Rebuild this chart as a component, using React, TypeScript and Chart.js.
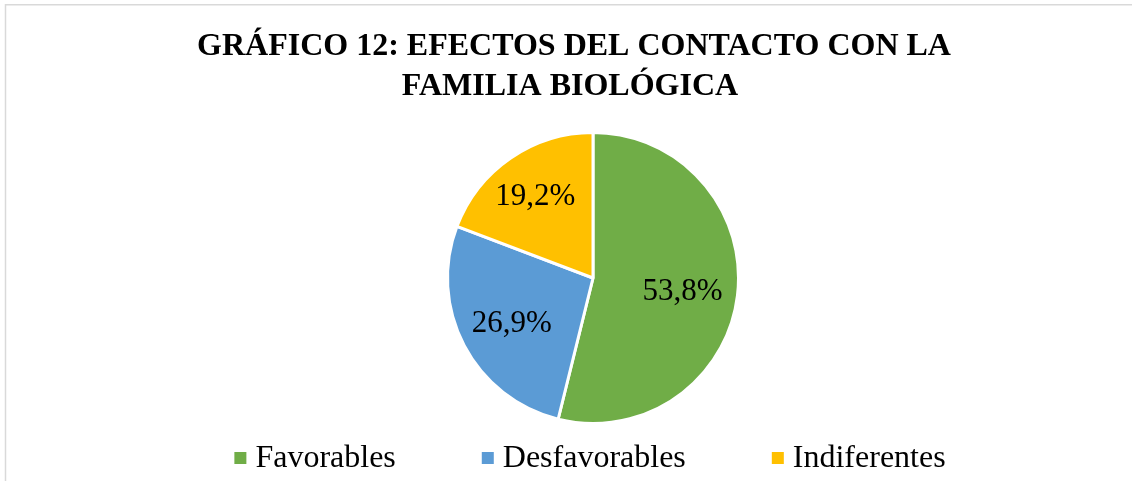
import React, { useEffect, useRef } from "react";
import { Chart, registerables } from "chart.js";

Chart.register(...registerables);

const titleLines = ["GRÁFICO 12: EFECTOS DEL CONTACTO CON LA", "FAMILIA BIOLÓGICA"];
const categories = ["Favorables", "Desfavorables", "Indiferentes"];
const values = [53.8, 26.9, 19.2];
const valueLabels = ["53,8%", "26,9%", "19,2%"];
const colors = ["#70AD47", "#5B9BD5", "#FFC000"];

const SERIF = '"Liberation Serif", "Times New Roman", serif';

const framePlugin = {
  id: "frame",
  beforeDraw(chart: any) {
    const ctx = chart.ctx;
    ctx.save();
    ctx.fillStyle = "#ffffff";
    ctx.fillRect(0, 0, chart.width, chart.height);
    ctx.strokeStyle = "#d9d9d9";
    ctx.lineWidth = 1.5;
    ctx.beginPath();
    ctx.moveTo(5.5, chart.height + 10);
    ctx.lineTo(5.5, 4.75);
    ctx.lineTo(chart.width + 10, 4.75);
    ctx.stroke();
    // title
    ctx.fillStyle = "#000000";
    ctx.font = "bold 32px " + SERIF;
    ctx.textAlign = "center";
    ctx.textBaseline = "alphabetic";
    ctx.fillText(titleLines[0], 574, 55);
    ctx.fillText(titleLines[1], 570, 95);
    ctx.restore();
  },
  afterDatasetsDraw(chart: any) {
    const ctx = chart.ctx;
    const meta = chart.getDatasetMeta(0);
    ctx.save();
    ctx.fillStyle = "#000000";
    ctx.font = "31px " + SERIF;
    ctx.textAlign = "center";
    ctx.textBaseline = "middle";
    const factors = [0.62, 0.63, 0.7];
    meta.data.forEach((arc: any, i: number) => {
      const p = arc.getProps(["x", "y", "startAngle", "endAngle", "outerRadius"], true);
      const mid = (p.startAngle + p.endAngle) / 2;
      const r = p.outerRadius * factors[i];
      ctx.fillText(valueLabels[i], p.x + Math.cos(mid) * r, p.y + Math.sin(mid) * r + 3);
    });
    // legend
    ctx.font = "32px " + SERIF;
    const box = 12;
    const gapBoxText = 9;
    const gapItems = 86;
    const widths = categories.map((c) => ctx.measureText(c).width);
    const total =
      widths.reduce((a, w) => a + box + gapBoxText + w, 0) + gapItems * (categories.length - 1);
    let x = 590 - total / 2;
    const baseline = 467;
    ctx.textAlign = "left";
    ctx.textBaseline = "alphabetic";
    categories.forEach((c, i) => {
      ctx.fillStyle = colors[i];
      ctx.fillRect(x, 452, box, box);
      x += box + gapBoxText;
      ctx.fillStyle = "#000000";
      ctx.fillText(c, x, baseline);
      x += widths[i] + gapItems;
    });
    ctx.restore();
  },
};

export default function App() {
  const ref = useRef<HTMLCanvasElement | null>(null);
  useEffect(() => {
    if (!ref.current) return;
    const chart = new Chart(ref.current, {
      type: "pie",
      data: {
        labels: categories,
        datasets: [
          {
            data: values,
            backgroundColor: colors,
            borderColor: "#ffffff",
            borderWidth: 3,
          },
        ],
      },
      options: {
        animation: false,
        responsive: false,
        maintainAspectRatio: false,
        layout: { padding: { top: 131, bottom: 56, left: 54, right: 0 } },
        plugins: {
          legend: { display: false },
          title: { display: false },
          tooltip: { enabled: false },
        },
      },
      plugins: [framePlugin],
    });
    return () => chart.destroy();
  }, []);
  return (
    <div style={{ position: "absolute", left: 0, top: 0, width: 1132, height: 481 }}>
      <canvas ref={ref} width={1132} height={481} style={{ display: "block" }} />
    </div>
  );
}
